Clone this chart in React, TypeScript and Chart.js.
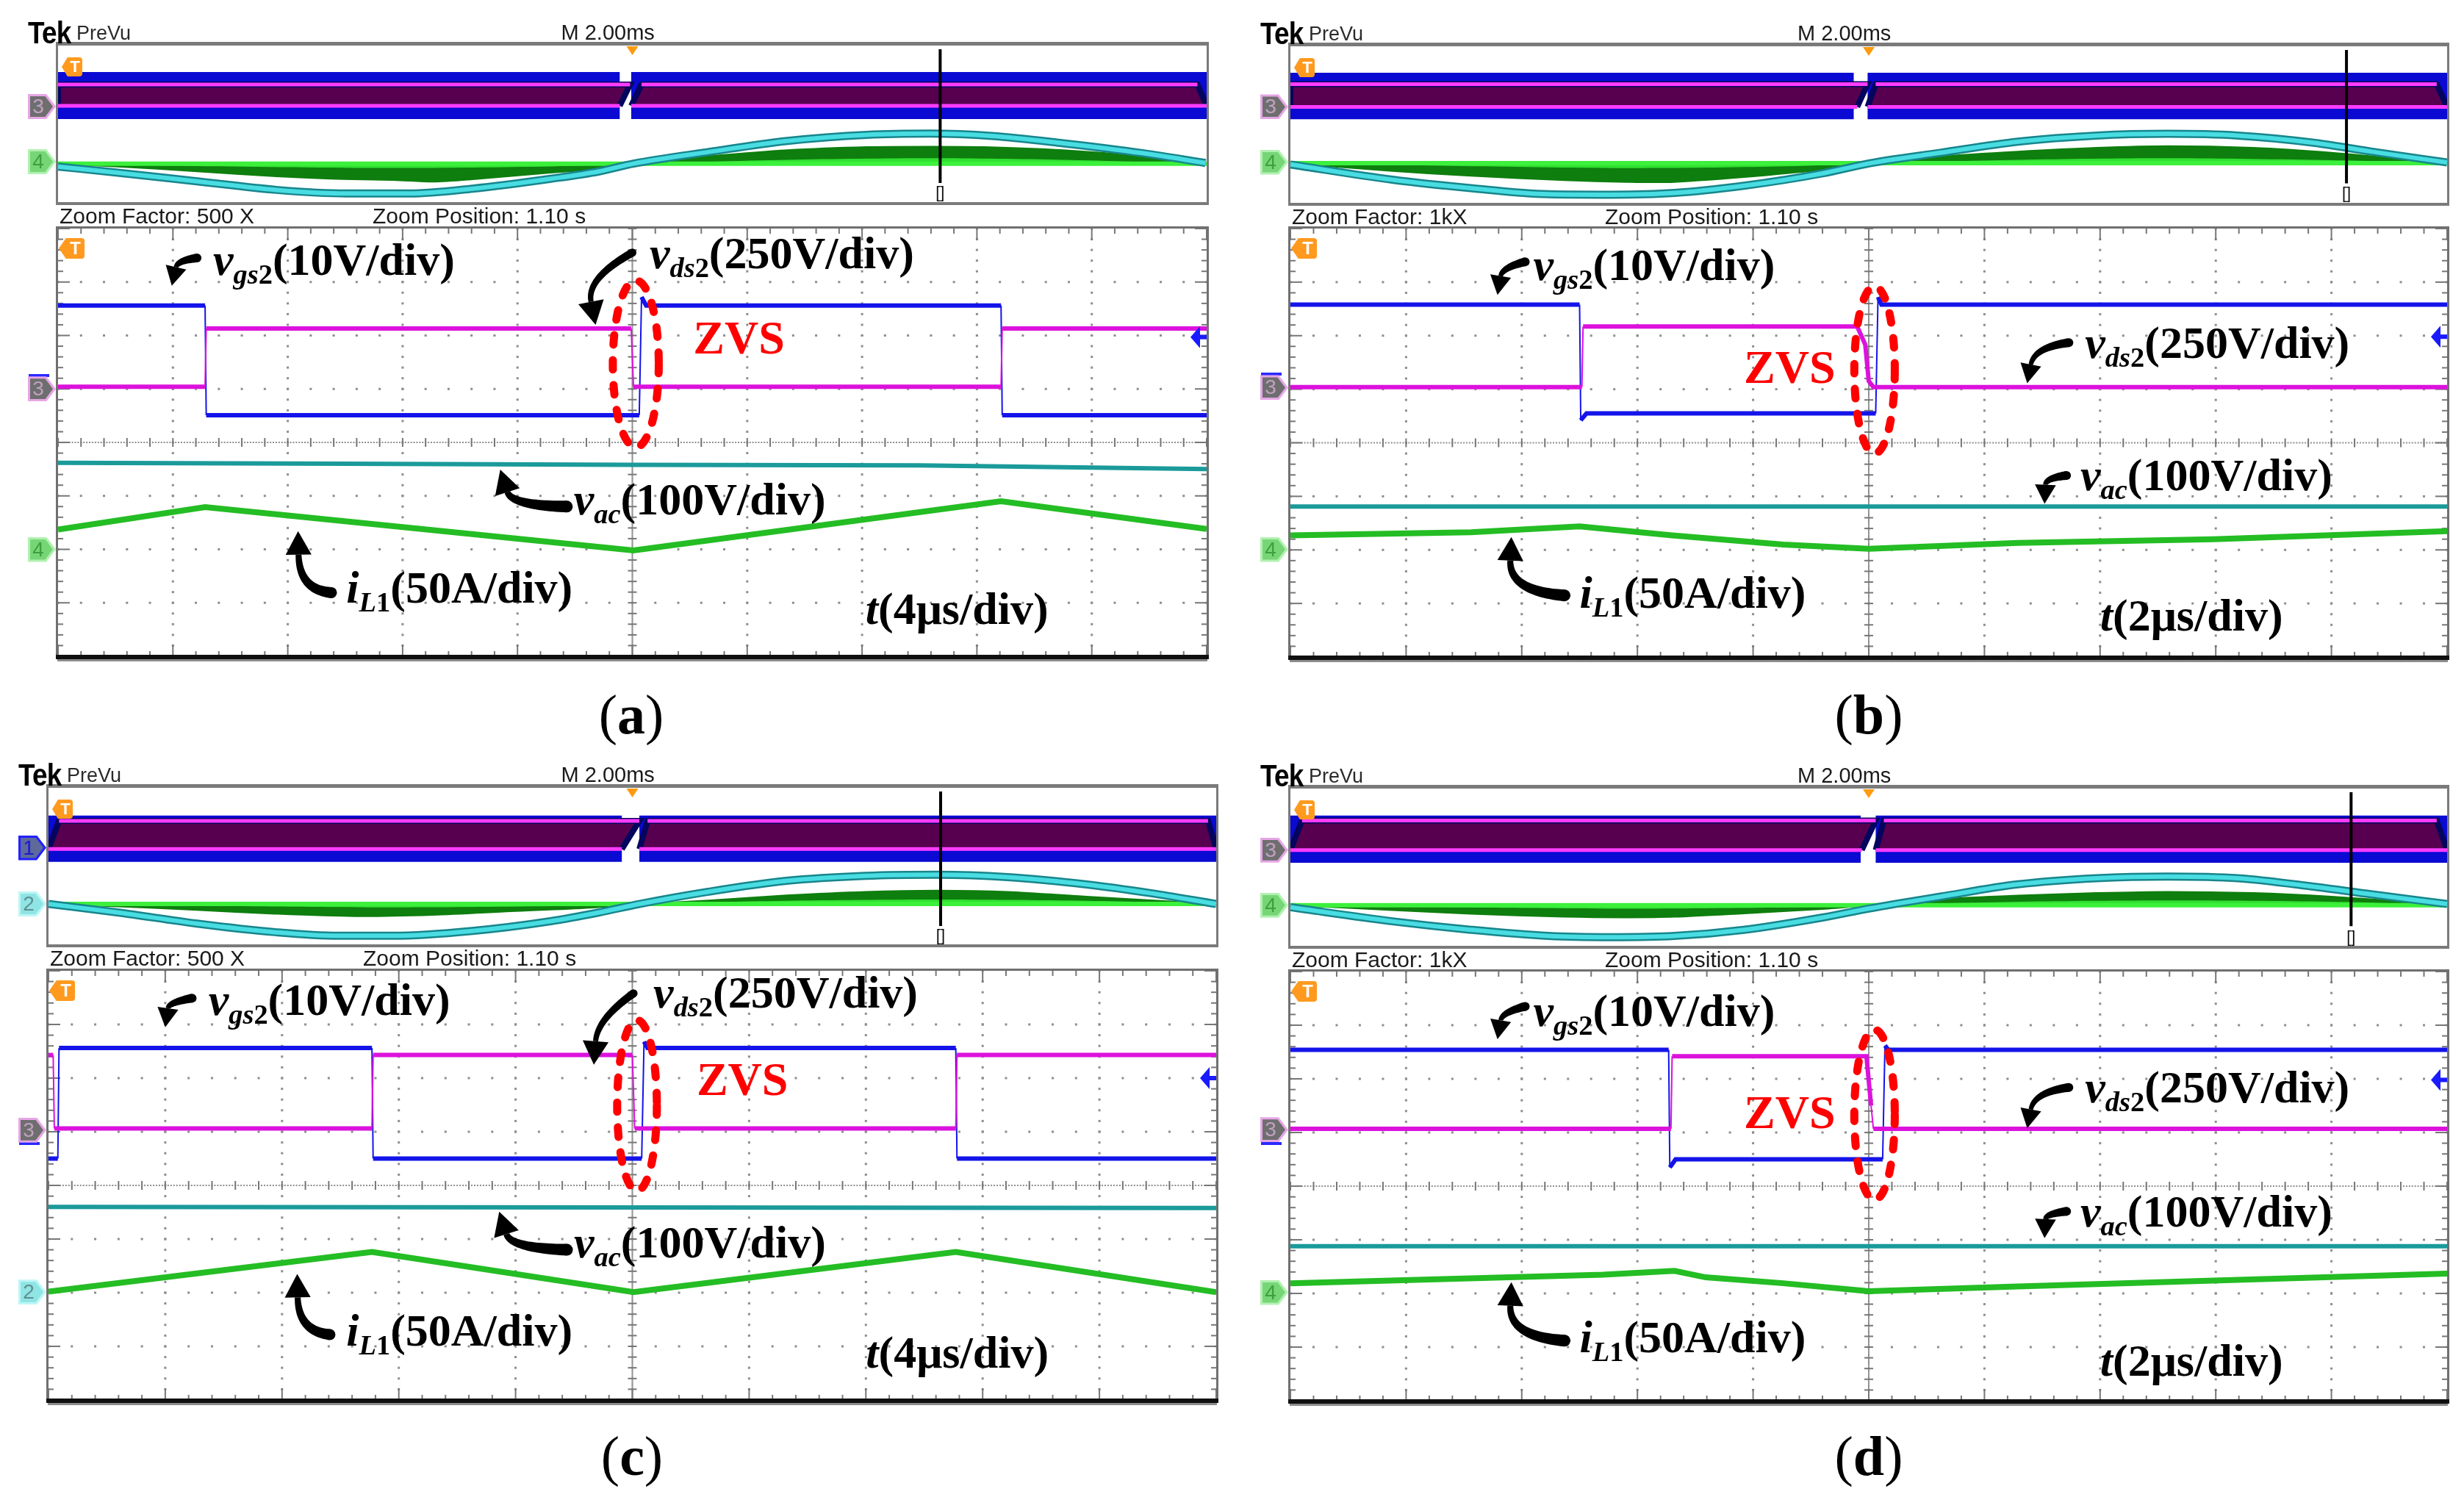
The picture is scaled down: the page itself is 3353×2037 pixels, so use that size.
import React, { useEffect, useRef } from 'react';
import { Chart, registerables } from 'chart.js';

Chart.register(...registerables);

type P = [number, number];

// ================= main screen traces (x: divisions 0..10, y: divisions -4..4) =================
const A_VGS2: P[] = [[0, 2.56], [1.28, 2.56], [1.29, 0.51], [5.06, 0.51], [5.08, 2.72], [5.12, 2.56], [8.21, 2.56], [8.22, 0.51], [10, 0.51]];
const A_VDS2: P[] = [[0, 1.04], [1.28, 1.04], [1.29, 2.13], [4.99, 2.13], [5.01, 1.04], [8.21, 1.04], [8.22, 2.13], [10, 2.13]];
const A_VAC: P[] = [[0, -0.38], [2.5, -0.4], [5, -0.42], [7.5, -0.43], [10, -0.5]];
const A_IL1: P[] = [[0, -1.63], [1.28, -1.21], [5.01, -2.02], [8.21, -1.1], [10, -1.62]];

const B_VGS2: P[] = [[0, 2.58], [2.5, 2.58], [2.51, 0.42], [2.56, 0.55], [5.06, 0.55], [5.08, 2.72], [5.11, 2.58], [10, 2.58]];
const B_VDS2: P[] = [[0, 1.04], [2.52, 1.04], [2.53, 2.17], [4.9, 2.17], [4.97, 1.83], [5.0, 1.15], [5.04, 1.04], [10, 1.04]];
const B_VAC: P[] = [[0, -1.19], [5, -1.19], [10, -1.19]];
const B_IL1: P[] = [[0, -1.73], [1.56, -1.67], [2.5, -1.56], [3.3, -1.73], [4.26, -1.9], [5.0, -1.98], [6.29, -1.87], [7.98, -1.8], [10, -1.65]];

const C_VGS2: P[] = [[0, 0.5], [0.08, 0.5], [0.09, 2.56], [2.77, 2.56], [2.78, 0.5], [5.08, 0.5], [5.1, 2.68], [5.13, 2.56], [7.77, 2.56], [7.78, 0.5], [10, 0.5]];
const C_VDS2: P[] = [[0, 2.43], [0.04, 2.43], [0.05, 1.06], [2.77, 1.06], [2.78, 2.43], [5.0, 2.43], [5.02, 1.06], [7.77, 1.06], [7.78, 2.43], [10, 2.43]];
const C_VAC: P[] = [[0, -0.4], [5, -0.41], [10, -0.42]];
const C_IL1: P[] = [[0, -1.98], [2.77, -1.24], [5.01, -1.99], [7.77, -1.24], [10, -1.99]];

const D_VGS2: P[] = [[0, 2.54], [3.27, 2.54], [3.28, 0.35], [3.33, 0.5], [5.12, 0.5], [5.14, 2.62], [5.17, 2.54], [10, 2.54]];
const D_VDS2: P[] = [[0, 1.07], [3.29, 1.07], [3.3, 2.42], [4.98, 2.42], [5.02, 1.5], [5.04, 1.07], [10, 1.07]];
const D_VAC: P[] = [[0, -1.12], [5, -1.12], [10, -1.12]];
const D_IL1: P[] = [[0, -1.81], [1.89, -1.7], [2.7, -1.65], [3.32, -1.58], [3.59, -1.7], [4.26, -1.81], [5.0, -1.96], [6.29, -1.87], [7.98, -1.76], [10, -1.63]];

// ================= overview (PreVu) strip (x 0..10, y 0..10) =================
const A_OV_BLUE_L: P[] = [[0, 5.31], [0, 8.31], [4.89, 8.31], [4.89, 5.31]];
const A_OV_BLUE_R: P[] = [[4.99, 5.31], [4.99, 8.31], [10, 8.31], [10, 5.31]];
const A_OV_MAG_L: P[] = [[0, 6.15], [0, 7.51], [4.98, 7.51], [4.89, 6.15]];
const A_OV_MAG_R: P[] = [[4.99, 6.15], [5.08, 7.51], [9.92, 7.51], [10, 6.15]];
const A_OV_VAC: P[] = [[0, 2.27], [0.52, 1.88], [1.21, 1.33], [1.9, 0.78], [2.51, 0.55], [3.06, 0.55], [3.61, 0.86], [4.29, 1.49], [4.71, 1.96], [5.01, 2.46], [5.67, 3.21], [6.35, 3.91], [7.04, 4.3], [7.59, 4.38], [8.13, 4.23], [8.75, 3.76], [9.44, 3.13], [9.99, 2.5]];
const A_OV_IL_NEG: P[] = [[0, 2.45], [0.52, 2.27], [1.21, 1.96], [1.9, 1.64], [2.37, 1.49], [2.92, 1.41], [3.27, 1.3], [3.61, 1.45], [4.29, 1.88], [4.71, 2.11], [5.01, 2.45]];
const A_OV_IL_POS: P[] = [[5.01, 2.45], [5.67, 2.93], [6.35, 3.32], [7.04, 3.52], [7.59, 3.55], [8.06, 3.52], [8.75, 3.32], [9.44, 2.93], [9.99, 2.45]];
const A_OV_IN_NEG: P[] = [[0, 2.45], [1.2, 2.3], [2.9, 2.18], [4.3, 2.28], [5.01, 2.45]];
const A_OV_IN_POS: P[] = [[5.01, 2.45], [6.35, 2.7], [7.6, 2.8], [8.75, 2.7], [9.99, 2.45]];
const A_OV_GND: P[] = [[0, 2.45], [10, 2.45]];
const A_OV_CURSOR: P[] = [[7.68, 1.22], [7.68, 9.77]];

const B_OV_BLUE_L: P[] = [[0, 5.34], [0, 8.31], [4.87, 8.31], [4.87, 5.34]];
const B_OV_BLUE_R: P[] = [[4.99, 5.34], [4.99, 8.31], [10, 8.31], [10, 5.34]];
const B_OV_MAG_L: P[] = [[0, 6.13], [0, 7.58], [4.99, 7.58], [4.9, 6.13]];
const B_OV_MAG_R: P[] = [[4.99, 6.13], [5.06, 7.58], [9.91, 7.58], [10, 6.13]];
const B_OV_VAC: P[] = [[0, 2.45], [0.88, 1.48], [1.56, 0.94], [2.23, 0.55], [2.77, 0.52], [3.32, 0.63], [3.92, 1.09], [4.6, 1.88], [5.01, 2.53], [5.62, 3.2], [6.29, 3.91], [6.97, 4.3], [7.58, 4.41], [8.19, 4.3], [8.86, 3.83], [9.34, 3.28], [10, 2.58]];
const B_OV_IL_NEG: P[] = [[0, 2.53], [0.88, 2.03], [1.56, 1.72], [2.37, 1.44], [2.91, 1.33], [3.32, 1.33], [3.92, 1.64], [4.6, 2.11], [5.01, 2.53]];
const B_OV_IL_POS: P[] = [[5.01, 2.53], [5.62, 2.97], [6.29, 3.28], [6.97, 3.52], [7.58, 3.63], [8.32, 3.52], [9.0, 3.2], [10, 2.53]];
const B_OV_IN_NEG: P[] = [[0, 2.53], [1.5, 2.35], [3.0, 2.22], [4.3, 2.33], [5.01, 2.53]];
const B_OV_IN_POS: P[] = [[5.01, 2.53], [6.3, 2.75], [7.6, 2.85], [9.0, 2.72], [10, 2.53]];
const B_OV_GND: P[] = [[0, 2.53], [10, 2.53]];
const B_OV_CURSOR: P[] = [[9.13, 1.25], [9.13, 9.77]];

const C_OV_BLUE_L: P[] = [[0, 5.27], [0, 8.23], [4.91, 8.23], [4.91, 5.27]];
const C_OV_BLUE_R: P[] = [[5.06, 5.27], [5.06, 8.23], [10, 8.23], [10, 5.27]];
const C_OV_MAG_L: P[] = [[0, 6.09], [0.09, 7.89], [5.06, 7.89], [4.91, 6.09]];
const C_OV_MAG_R: P[] = [[5.06, 6.09], [5.13, 7.89], [9.93, 7.89], [10, 6.09]];
const C_OV_VAC: P[] = [[0, 2.58], [0.6, 2.03], [1.27, 1.33], [1.94, 0.78], [2.48, 0.55], [2.95, 0.55], [3.63, 0.86], [4.3, 1.48], [4.71, 2.03], [5.06, 2.58], [5.65, 3.36], [6.32, 4.06], [7.0, 4.38], [7.61, 4.45], [8.21, 4.3], [8.89, 3.83], [9.43, 3.28], [10, 2.58]];
const C_OV_IL_NEG: P[] = [[0, 2.58], [0.6, 2.42], [1.27, 2.19], [1.94, 1.95], [2.62, 1.8], [3.29, 1.88], [3.96, 2.11], [4.64, 2.34], [5.06, 2.58]];
const C_OV_IL_POS: P[] = [[5.06, 2.58], [5.65, 2.81], [6.32, 3.13], [7.0, 3.36], [7.61, 3.44], [8.21, 3.36], [8.89, 3.05], [10, 2.58]];
const C_OV_IN_NEG: P[] = [[0, 2.58], [1.6, 2.44], [2.9, 2.36], [4.3, 2.44], [5.06, 2.58]];
const C_OV_IN_POS: P[] = [[5.06, 2.58], [6.3, 2.78], [7.6, 2.86], [8.9, 2.78], [10, 2.58]];
const C_OV_GND: P[] = [[0, 2.58], [10, 2.58]];
const C_OV_CURSOR: P[] = [[7.64, 1.17], [7.64, 9.77]];

const D_OV_BLUE_L: P[] = [[0, 5.28], [0, 8.28], [4.93, 8.28], [4.93, 5.28]];
const D_OV_BLUE_R: P[] = [[5.06, 5.28], [5.06, 8.28], [10, 8.28], [10, 5.28]];
const D_OV_MAG_L: P[] = [[0, 6.09], [0.1, 7.97], [5.06, 7.97], [4.94, 6.09]];
const D_OV_MAG_R: P[] = [[5.06, 6.09], [5.13, 7.97], [9.91, 7.97], [10, 6.09]];
const D_OV_VAC: P[] = [[0, 2.45], [0.88, 1.56], [1.56, 1.02], [2.23, 0.63], [2.77, 0.55], [3.32, 0.63], [3.92, 1.02], [4.6, 1.8], [5.01, 2.38], [5.62, 3.13], [6.29, 3.91], [6.97, 4.3], [7.58, 4.41], [8.19, 4.3], [8.86, 3.75], [9.34, 3.28], [10, 2.66]];
const D_OV_IL_NEG: P[] = [[0, 2.58], [0.88, 2.27], [1.56, 2.03], [2.37, 1.84], [2.91, 1.8], [3.32, 1.84], [3.92, 2.06], [4.6, 2.34], [5.01, 2.58]];
const D_OV_IL_POS: P[] = [[5.01, 2.58], [5.62, 2.97], [6.29, 3.2], [6.97, 3.36], [7.58, 3.44], [8.32, 3.36], [9.0, 3.13], [10, 2.63]];
const D_OV_IN_NEG: P[] = [[0, 2.58], [1.5, 2.44], [2.9, 2.36], [4.3, 2.44], [5.01, 2.58]];
const D_OV_IN_POS: P[] = [[5.01, 2.58], [6.3, 2.8], [7.6, 2.88], [9.0, 2.8], [10, 2.6]];
const D_OV_GND: P[] = [[0, 2.58], [10, 2.58]];
const D_OV_CURSOR: P[] = [[9.17, 1.25], [9.17, 9.77]];

const OV_TRIGGER = 5;

// ================= layout / annotation configuration =================
interface Box { l: number; t: number; w: number; h: number }
interface Arrow { tail: P; ctrl: P; tip: P; w: [number, number]; head: number }
interface Lbl { kind: string; x: number; y: number }
interface Panel {
  id: string; ov: Box; main: Box; cap: { x: number; y: number };
  zoomFactor: string; tdiv: string;
  vgs: P[]; vds: P[]; vac: P[]; il: P[];
  ovBlue: P[][]; ovMag: P[][]; ovVac: P[]; ovIlNeg: P[]; ovIlPos: P[]; ovInNeg: P[]; ovInPos: P[]; ovGnd: P[]; ovCursor: P[];
  bracketY: number;
  ovMarkers: { ch: string; y: number }[]; mainMarkers: { ch: string; y: number }[]; ch1Edge: number;
  labels: Lbl[]; arrows: Arrow[]; ellipse: { cx: number; cy: number; rx: number; ry: number }; blueRef: number;
}

const PANELS: Panel[] = [
  {
    id: 'a', ov: { l: 79, t: 62, w: 1563, h: 213 }, main: { l: 79, t: 311, w: 1563, h: 582 }, cap: { x: 859, y: 998 },
    zoomFactor: 'Zoom Factor: 500 X', tdiv: '4μs/div',
    vgs: A_VGS2, vds: A_VDS2, vac: A_VAC, il: A_IL1,
    ovBlue: [A_OV_BLUE_L, A_OV_BLUE_R], ovMag: [A_OV_MAG_L, A_OV_MAG_R], ovVac: A_OV_VAC, ovIlNeg: A_OV_IL_NEG, ovIlPos: A_OV_IL_POS,
    ovInNeg: A_OV_IN_NEG, ovInPos: A_OV_IN_POS, ovGnd: A_OV_GND, ovCursor: A_OV_CURSOR, bracketY: 0.62,
    ovMarkers: [{ ch: '3', y: 6.1 }, { ch: '4', y: 2.58 }],
    mainMarkers: [{ ch: '3', y: 1.0 }, { ch: '4', y: -2.0 }], ch1Edge: 1.25,
    labels: [{ kind: 'vgs', x: 1.35, y: 3.13 }, { kind: 'vds', x: 5.15, y: 3.26 }, { kind: 'zvs', x: 5.53, y: 1.66 }, { kind: 'vac', x: 4.49, y: -1.35 }, { kind: 'il', x: 2.51, y: -3.0 }, { kind: 't', x: 7.03, y: -3.4 }],
    arrows: [
      { tail: [1.21, 3.45], ctrl: [1.04, 3.4], tip: [0.99, 2.93], w: [12, 6], head: 26 },
      { tail: [5.0, 3.55], ctrl: [4.6, 3.07], tip: [4.68, 2.2], w: [11, 7], head: 32 },
      { tail: [4.43, -1.2], ctrl: [3.95, -1.18], tip: [3.85, -0.51], w: [16, 8], head: 32 },
      { tail: [2.38, -2.81], ctrl: [2.1, -2.76], tip: [2.09, -1.66], w: [15, 8], head: 32 },
    ],
    ellipse: { cx: 5.03, cy: 1.47, rx: 0.2, ry: 1.56 }, blueRef: 1.97,
  },
  {
    id: 'b', ov: { l: 1756, t: 63, w: 1574, h: 213 }, main: { l: 1756, t: 311, w: 1574, h: 583 }, cap: { x: 2543, y: 998 },
    zoomFactor: 'Zoom Factor: 1kX', tdiv: '2μs/div',
    vgs: B_VGS2, vds: B_VDS2, vac: B_VAC, il: B_IL1,
    ovBlue: [B_OV_BLUE_L, B_OV_BLUE_R], ovMag: [B_OV_MAG_L, B_OV_MAG_R], ovVac: B_OV_VAC, ovIlNeg: B_OV_IL_NEG, ovIlPos: B_OV_IL_POS,
    ovInNeg: B_OV_IN_NEG, ovInPos: B_OV_IN_POS, ovGnd: B_OV_GND, ovCursor: B_OV_CURSOR, bracketY: 0.63,
    ovMarkers: [{ ch: '3', y: 6.13 }, { ch: '4', y: 2.6 }],
    mainMarkers: [{ ch: '3', y: 1.03 }, { ch: '4', y: -1.99 }], ch1Edge: 1.28,
    labels: [{ kind: 'vgs', x: 2.1, y: 3.04 }, { kind: 'vds', x: 6.87, y: 1.58 }, { kind: 'zvs', x: 3.92, y: 1.11 }, { kind: 'vac', x: 6.83, y: -0.89 }, { kind: 'il', x: 2.5, y: -3.08 }, { kind: 't', x: 7.0, y: -3.5 }],
    arrows: [
      { tail: [2.03, 3.38], ctrl: [1.83, 3.27], tip: [1.79, 2.76], w: [12, 6], head: 26 },
      { tail: [6.73, 1.87], ctrl: [6.43, 1.78], tip: [6.37, 1.11], w: [12, 6], head: 26 },
      { tail: [6.71, -0.61], ctrl: [6.53, -0.66], tip: [6.52, -1.14], w: [12, 6], head: 26 },
      { tail: [2.37, -2.85], ctrl: [1.89, -2.77], tip: [1.91, -1.76], w: [16, 8], head: 32 },
    ],
    ellipse: { cx: 5.05, cy: 1.36, rx: 0.175, ry: 1.56 }, blueRef: 1.98,
  },
  {
    id: 'c', ov: { l: 66, t: 1072, w: 1589, h: 213 }, main: { l: 66, t: 1321, w: 1589, h: 584 }, cap: { x: 860, y: 2007 },
    zoomFactor: 'Zoom Factor: 500 X', tdiv: '4μs/div',
    vgs: C_VGS2, vds: C_VDS2, vac: C_VAC, il: C_IL1,
    ovBlue: [C_OV_BLUE_L, C_OV_BLUE_R], ovMag: [C_OV_MAG_L, C_OV_MAG_R], ovVac: C_OV_VAC, ovIlNeg: C_OV_IL_NEG, ovIlPos: C_OV_IL_POS,
    ovInNeg: C_OV_IN_NEG, ovInPos: C_OV_IN_POS, ovGnd: C_OV_GND, ovCursor: C_OV_CURSOR, bracketY: 0.55,
    ovMarkers: [{ ch: '1', y: 6.17 }, { ch: '2', y: 2.58 }],
    mainMarkers: [{ ch: '3', y: 1.03 }, { ch: '2', y: -1.99 }], ch1Edge: 0.78,
    labels: [{ kind: 'vgs', x: 1.37, y: 3.18 }, { kind: 'vds', x: 5.18, y: 3.32 }, { kind: 'zvs', x: 5.55, y: 1.68 }, { kind: 'vac', x: 4.5, y: -1.34 }, { kind: 'il', x: 2.55, y: -2.98 }, { kind: 't', x: 7.0, y: -3.4 }],
    arrows: [
      { tail: [1.23, 3.49], ctrl: [1.03, 3.41], tip: [1.0, 2.95], w: [12, 6], head: 26 },
      { tail: [5.01, 3.58], ctrl: [4.7, 3.1], tip: [4.67, 2.25], w: [11, 7], head: 32 },
      { tail: [4.44, -1.2], ctrl: [3.96, -1.17], tip: [3.86, -0.49], w: [16, 8], head: 32 },
      { tail: [2.41, -2.78], ctrl: [2.14, -2.72], tip: [2.13, -1.65], w: [15, 8], head: 32 },
    ],
    ellipse: { cx: 5.04, cy: 1.49, rx: 0.17, ry: 1.59 }, blueRef: 2.0,
  },
  {
    id: 'd', ov: { l: 1756, t: 1073, w: 1574, h: 214 }, main: { l: 1756, t: 1322, w: 1574, h: 584 }, cap: { x: 2543, y: 2007 },
    zoomFactor: 'Zoom Factor: 1kX', tdiv: '2μs/div',
    vgs: D_VGS2, vds: D_VDS2, vac: D_VAC, il: D_IL1,
    ovBlue: [D_OV_BLUE_L, D_OV_BLUE_R], ovMag: [D_OV_MAG_L, D_OV_MAG_R], ovVac: D_OV_VAC, ovIlNeg: D_OV_IL_NEG, ovIlPos: D_OV_IL_POS,
    ovInNeg: D_OV_IN_NEG, ovInPos: D_OV_IN_POS, ovGnd: D_OV_GND, ovCursor: D_OV_CURSOR, bracketY: 0.55,
    ovMarkers: [{ ch: '3', y: 6.09 }, { ch: '4', y: 2.58 }],
    mainMarkers: [{ ch: '3', y: 1.05 }, { ch: '4', y: -1.98 }], ch1Edge: 0.8,
    labels: [{ kind: 'vgs', x: 2.1, y: 2.99 }, { kind: 'vds', x: 6.87, y: 1.56 }, { kind: 'zvs', x: 3.92, y: 1.08 }, { kind: 'vac', x: 6.83, y: -0.75 }, { kind: 'il', x: 2.5, y: -3.1 }, { kind: 't', x: 7.0, y: -3.53 }],
    arrows: [
      { tail: [2.03, 3.35], ctrl: [1.83, 3.24], tip: [1.79, 2.74], w: [12, 6], head: 26 },
      { tail: [6.73, 1.84], ctrl: [6.43, 1.75], tip: [6.37, 1.08], w: [12, 6], head: 26 },
      { tail: [6.71, -0.47], ctrl: [6.53, -0.52], tip: [6.52, -0.97], w: [12, 6], head: 26 },
      { tail: [2.37, -2.88], ctrl: [1.89, -2.8], tip: [1.91, -1.79], w: [16, 8], head: 32 },
    ],
    ellipse: { cx: 5.05, cy: 1.33, rx: 0.175, ry: 1.585 }, blueRef: 1.98,
  },
];

// ================= helpers =================
const PAD = 14;
const SERIF = '"Liberation Serif","Times New Roman",Times,serif';
const SANS = '"Liberation Sans",Arial,Helvetica,sans-serif';
const xyd = (pts: P[]) => pts.map(([x, y]) => ({ x, y }));

function baseOptions(ymin: number, ymax: number): any {
  return {
    responsive: false, animation: false, devicePixelRatio: 1, events: [],
    layout: { padding: PAD },
    plugins: { legend: { display: false }, tooltip: { enabled: false } },
    elements: { point: { radius: 0 } },
    scales: {
      x: { type: 'linear', min: 0, max: 10, display: false },
      y: { type: 'linear', min: ymin, max: ymax, display: false },
    },
  };
}

function drawArrow(ctx: CanvasRenderingContext2D, t: number[], c: number[], tip: number[], w0: number, w1: number, head: number) {
  let dx = tip[0] - c[0], dy = tip[1] - c[1];
  const L = Math.hypot(dx, dy) || 1; dx /= L; dy /= L;
  const b = [tip[0] - dx * head, tip[1] - dy * head];
  const N = 30; const lft: number[][] = [], rgt: number[][] = [];
  for (let i = 0; i <= N; i++) {
    const s = i / N, q = 1 - s;
    const px = q * q * t[0] + 2 * q * s * c[0] + s * s * b[0];
    const py = q * q * t[1] + 2 * q * s * c[1] + s * s * b[1];
    let tx = 2 * q * (c[0] - t[0]) + 2 * s * (b[0] - c[0]);
    let ty = 2 * q * (c[1] - t[1]) + 2 * s * (b[1] - c[1]);
    const tl = Math.hypot(tx, ty) || 1; tx /= tl; ty /= tl;
    const hw = (w0 + (w1 - w0) * s) / 2;
    lft.push([px - ty * hw, py + tx * hw]); rgt.push([px + ty * hw, py - tx * hw]);
  }
  ctx.beginPath();
  ctx.moveTo(lft[0][0], lft[0][1]);
  for (const p of lft) ctx.lineTo(p[0], p[1]);
  for (let i = rgt.length - 1; i >= 0; i--) ctx.lineTo(rgt[i][0], rgt[i][1]);
  ctx.closePath(); ctx.fill();
  ctx.beginPath(); ctx.arc(t[0], t[1], w0 / 2, 0, Math.PI * 2); ctx.fill();
  const hw = head * 0.55;
  ctx.beginPath();
  ctx.moveTo(tip[0], tip[1]);
  ctx.lineTo(b[0] - dy * hw, b[1] + dx * hw);
  ctx.lineTo(b[0] + dy * hw, b[1] - dx * hw);
  ctx.closePath(); ctx.fill();
}

const gridPlugin = {
  id: 'scopeGrid',
  beforeDatasetsDraw(chart: any) {
    const { ctx, chartArea: { left, right, top, bottom }, scales: { x, y } } = chart;
    const X = (v: number) => x.getPixelForValue(v), Y = (v: number) => y.getPixelForValue(v);
    ctx.save();
    ctx.fillStyle = '#8e8e8e';
    const dot = (px: number, py: number, s: number) => ctx.fillRect(px - s / 2, py - s / 2, s, s);
    for (let i = 1; i < 10; i++) {
      if (i === 5) continue;
      for (let k = -20; k <= 20; k++) dot(X(i), Y(k * 0.2), 3);
    }
    for (let j = -3; j <= 3; j++) {
      if (j === 0) continue;
      for (let k = 0; k <= 50; k++) dot(X(k * 0.2), Y(j), 3);
    }
    const cx = X(5), cy = Y(0);
    for (let k = -160; k <= 160; k++) dot(cx, Y(k * 0.025), 2);
    for (let k = 0; k <= 400; k++) dot(X(k * 0.025), cy, 2);
    ctx.fillStyle = '#777';
    for (let k = -20; k <= 20; k++) ctx.fillRect(cx - 6, Y(k * 0.2) - 1, 12, 2);
    for (let k = 0; k <= 50; k++) ctx.fillRect(X(k * 0.2) - 1, cy - 6, 2, 12);
    for (let k = 0; k <= 50; k++) {
      const len = k % 5 === 0 ? 16 : 7;
      ctx.fillRect(X(k * 0.2) - 1, top, 2, len);
      ctx.fillRect(X(k * 0.2) - 1, bottom - len, 2, len);
    }
    for (let k = -20; k <= 20; k++) {
      const len = k % 5 === 0 ? 16 : 7;
      ctx.fillRect(left, Y(k * 0.2) - 1, len, 2);
      ctx.fillRect(right - len, Y(k * 0.2) - 1, len, 2);
    }
    ctx.restore();
  },
  afterDraw(chart: any) {
    const { ctx, chartArea: { left, right, top, bottom } } = chart;
    ctx.save();
    ctx.fillStyle = '#707070';
    ctx.fillRect(left - 3, top - 3, right - left + 6, 3);
    ctx.fillRect(left - 3, top, 3, bottom - top);
    ctx.fillRect(right, top, 3, bottom - top);
    ctx.fillStyle = '#101010';
    ctx.fillRect(left - 3, bottom - 2, right - left + 6, 6);
    ctx.fillStyle = '#8c8c8c';
    ctx.fillRect(left - 1, bottom + 4, right - left + 2, 3);
    ctx.restore();
  },
};

function notesPlugin(p: Panel) {
  return {
    id: 'scopeNotes',
    afterDatasetsDraw(chart: any) {
      const { ctx, chartArea, scales: { x, y } } = chart;
      const X = (v: number) => x.getPixelForValue(v), Y = (v: number) => y.getPixelForValue(v);
      const kx = X(1) - X(0), ky = Y(0) - Y(1);
      ctx.save();
      const by = Y(p.blueRef), r = chartArea.right;
      ctx.fillStyle = '#1a1aff';
      ctx.beginPath(); ctx.moveTo(r - 22, by); ctx.lineTo(r - 9, by - 15); ctx.lineTo(r - 9, by + 15); ctx.closePath(); ctx.fill();
      ctx.fillRect(r - 11, by - 3, 11, 6);
      const e = p.ellipse;
      ctx.strokeStyle = '#ff0000'; ctx.lineWidth = 11; ctx.setLineDash([13, 21]); ctx.lineCap = 'round';
      ctx.beginPath(); ctx.ellipse(X(e.cx), Y(e.cy), e.rx * kx, e.ry * ky, 0, 0, Math.PI * 2); ctx.stroke();
      ctx.setLineDash([]);
      ctx.fillStyle = '#000';
      for (const a of p.arrows) {
        drawArrow(ctx, [X(a.tail[0]), Y(a.tail[1])], [X(a.ctrl[0]), Y(a.ctrl[1])], [X(a.tip[0]), Y(a.tip[1])], a.w[0], a.w[1], a.head);
      }
      ctx.restore();
    },
  };
}

function ovFramePlugin() {
  return {
    id: 'ovFrame',
    afterDraw(chart: any) {
      const { ctx, chartArea: { left, right, top, bottom }, scales: { x } } = chart;
      ctx.save();
      ctx.fillStyle = '#7a7a7a';
      ctx.fillRect(left - 3, top - 5, right - left + 6, 5);
      ctx.fillRect(left - 3, bottom, right - left + 6, 4);
      ctx.fillRect(left - 3, top, 3, bottom - top);
      ctx.fillRect(right, top, 3, bottom - top);
      const cx = x.getPixelForValue(OV_TRIGGER);
      ctx.fillStyle = '#ff9a10';
      ctx.beginPath(); ctx.moveTo(cx - 8, top + 1); ctx.lineTo(cx + 8, top + 1); ctx.lineTo(cx, top + 13); ctx.closePath(); ctx.fill();
      ctx.restore();
    },
  };
}

function mainConfig(p: Panel): any {
  const seg = (w: number) => ({ borderWidth: (c: any) => (Math.abs(c.p1.x - c.p0.x) < 4.5 ? 2 : w) });
  const mk = (data: P[], color: string, width: number, order: number) => ({
    data: xyd(data), borderColor: color, borderWidth: width, pointRadius: 0, fill: false, tension: 0, clip: 0, order, segment: seg(width),
  });
  return {
    type: 'line',
    data: {
      datasets: [
        mk(p.vac, '#1b9a9a', 6, 4),
        mk(p.il, '#24bd24', 8, 3),
        mk(p.vgs, '#1414ea', 6, 2),
        mk(p.vds, '#dc12dc', 6, 1),
      ],
    },
    options: baseOptions(-4, 4),
    plugins: [gridPlugin, notesPlugin(p)],
  };
}

function ovConfig(p: Panel): any {
  const list: any[] = [];
  const poly = (pts: P[], fillColor: string, border = 'transparent', bw = 0, tension = 0) =>
    list.push({ data: xyd(pts), fill: 'shape', backgroundColor: fillColor, borderColor: border, borderWidth: bw, pointRadius: 0, tension, clip: 0 });
  const ln = (pts: P[], color: string, w: number, extra: any = {}) =>
    list.push({ data: xyd(pts), fill: false, borderColor: color, borderWidth: w, pointRadius: 0, tension: 0, clip: 0, ...extra });
  for (const b of p.ovBlue) poly(b, '#0a0ad2');
  for (const m of p.ovMag) {
    poly(m, '#57004f', '#05055e', 8);
    ln([m[1], m[2]], '#ff3cff', 5);
    ln([m[0], m[3]], '#ff3cff', 5);
  }
  poly(p.ovIlNeg, '#0e7e0e', '#0e7e0e', 2, 0.3);
  poly(p.ovIlPos, '#0e7e0e', '#0e7e0e', 2, 0.3);
  poly(p.ovInNeg, '#30e030', 'transparent', 0, 0.3);
  poly(p.ovInPos, '#30e030', 'transparent', 0, 0.3);
  ln(p.ovGnd, '#3cf03c', 6);
  ln(p.ovVac, '#17868c', 11, { cubicInterpolationMode: 'monotone' });
  ln(p.ovVac, '#48dde2', 6, { cubicInterpolationMode: 'monotone' });
  ln(p.ovCursor, '#000', 4);
  const n = list.length;
  list.forEach((d, i) => { d.order = n - i; });
  return { type: 'line', data: { datasets: list }, options: baseOptions(0, 10), plugins: [ovFramePlugin()] };
}

// ================= DOM pieces =================
function TextAt({ x, y, size, family = SERIF, weight = 700, color = '#000', asc = 0.8375, children, style }: any) {
  return (
    <div style={{ position: 'absolute', left: x, top: y - asc * size, fontFamily: family, fontSize: size, lineHeight: `${size}px`, fontWeight: weight, color, whiteSpace: 'nowrap', ...style }}>
      {children}
    </div>
  );
}

const Sub = ({ children }: any) => <span style={{ fontSize: '0.62em', verticalAlign: '-0.3em', lineHeight: 0 }}>{children}</span>;

const MARKER_STYLE: any = {
  '1': { edge: '#2222ff', fill: '#5d6a9a', digit: '#1b1bd0' },
  '2': { edge: '#bdf6f6', fill: '#8fe4e4', digit: '#5f8f8f' },
  '3': { edge: '#e6a6e6', fill: '#6e6e6e', digit: '#c0a0c0' },
  '4': { edge: '#b2f0b2', fill: '#76d676', digit: '#3f9f3f' },
};
const PENT = 'polygon(0 0, 66% 0, 100% 50%, 66% 100%, 0 100%)';

function ChMarker({ ch, right, cy }: any) {
  const st = MARKER_STYLE[ch];
  return (
    <div style={{ position: 'absolute', left: right - 38, top: cy - 17, width: 38, height: 34, background: st.edge, clipPath: PENT }}>
      <div style={{ position: 'absolute', left: 3, top: 3, width: 31, height: 28, background: st.fill, clipPath: PENT }} />
      <div style={{ position: 'absolute', left: 3, top: 0, width: 22, height: 34, textAlign: 'center', lineHeight: '34px', fontFamily: SANS, fontSize: 28, color: st.digit }}>{ch}</div>
    </div>
  );
}

function TMark({ x, y, w, h }: any) {
  return (
    <div style={{ position: 'absolute', left: x, top: y, width: w, height: h, background: '#ff9a1f', clipPath: 'polygon(0 50%, 28% 0, 100% 0, 100% 100%, 28% 100%)', borderRadius: 4 }}>
      <div style={{ position: 'absolute', left: w * 0.28, right: 0, top: 0, bottom: 0, color: '#fff', fontFamily: SANS, fontWeight: 700, fontSize: h * 0.85, lineHeight: `${h}px`, textAlign: 'center' }}>T</div>
    </div>
  );
}

function labelContent(kind: string, tdiv: string) {
  switch (kind) {
    case 'vgs': return <><i>v</i><Sub><i>gs</i>2</Sub>(10V/div)</>;
    case 'vds': return <><i>v</i><Sub><i>ds</i>2</Sub>(250V/div)</>;
    case 'vac': return <><i>v</i><Sub><i>ac</i></Sub>(100V/div)</>;
    case 'il': return <><i>i</i><Sub><i>L</i>1</Sub>(50A/div)</>;
    case 't': return <><i>t</i>({tdiv})</>;
    default: return <>ZVS</>;
  }
}

function ScopePanel({ p }: { p: Panel }) {
  const ovRef = useRef<HTMLCanvasElement>(null);
  const mainRef = useRef<HTMLCanvasElement>(null);
  useEffect(() => {
    const c1 = new Chart(ovRef.current as HTMLCanvasElement, ovConfig(p));
    const c2 = new Chart(mainRef.current as HTMLCanvasElement, mainConfig(p));
    return () => { c1.destroy(); c2.destroy(); };
  }, [p]);
  const { ov, main } = p;
  const mx = (v: number) => main.l + (v / 10) * main.w;
  const my = (v: number) => main.t + ((4 - v) / 8) * main.h;
  const ox = (v: number) => ov.l + (v / 10) * ov.w;
  const oy = (v: number) => ov.t + ((10 - v) / 10) * ov.h;
  const canv = (b: Box, ref: any) => (
    <canvas ref={ref} width={b.w + 2 * PAD} height={b.h + 2 * PAD}
      style={{ position: 'absolute', left: b.l - PAD, top: b.t - PAD, width: b.w + 2 * PAD, height: b.h + 2 * PAD }} />
  );
  const cursorX = ox(p.ovCursor[0][0]);
  return (
    <>
      {canv(ov, ovRef)}
      {canv(main, mainRef)}
      <TextAt x={ov.l - 41} y={ov.t - 2} size={42} family={SANS} asc={0.8465} style={{ transform: 'scaleX(0.88)', transformOrigin: 'left', letterSpacing: -1 }}>Tek</TextAt>
      <TextAt x={ov.l + 25} y={ov.t - 7} size={27} family={SANS} weight={400} color="#2a2a2a" asc={0.8465}>PreVu</TextAt>
      <TextAt x={ov.l + ov.w / 2 - 97} y={ov.t - 7} size={29} family={SANS} weight={400} color="#1a1a1a" asc={0.8465}>M 2.00ms</TextAt>
      <TextAt x={ov.l + 2} y={ov.t + ov.h + 29} size={30} family={SANS} weight={400} color="#1a1a1a" asc={0.8465}>{p.zoomFactor}</TextAt>
      <TextAt x={ov.l + 428} y={ov.t + ov.h + 29} size={30} family={SANS} weight={400} color="#1a1a1a" asc={0.8465}>Zoom Position: 1.10 s</TextAt>
      <div style={{ position: 'absolute', left: cursorX - 20, top: oy(p.bracketY) - 12, width: 40, textAlign: 'center', fontFamily: SANS, fontSize: 22, lineHeight: '24px', color: '#111' }}>[]</div>
      {p.ovMarkers.map((m, i) => <ChMarker key={'o' + i} ch={m.ch} right={ov.l - 3} cy={oy(m.y)} />)}
      <div style={{ position: 'absolute', left: main.l - 40, top: my(p.ch1Edge) - 2, width: 28, height: 4, background: '#2a2aff' }} />
      {p.mainMarkers.map((m, i) => <ChMarker key={'m' + i} ch={m.ch} right={main.l - 3} cy={my(m.y)} />)}
      <TMark x={ov.l + 5} y={ov.t + 16} w={28} h={26} />
      <TMark x={main.l + 1} y={my(3.63) - 14} w={35} h={28} />
      {p.labels.map((l, i) => l.kind === 'zvs'
        ? <TextAt key={'l' + i} x={mx(l.x)} y={my(l.y)} size={64} color="#ff0000">ZVS</TextAt>
        : <TextAt key={'l' + i} x={mx(l.x)} y={my(l.y)} size={62}>{labelContent(l.kind, p.tdiv)}</TextAt>)}
      <div style={{ position: 'absolute', left: p.cap.x - 100, top: p.cap.y - 0.8375 * 76, width: 200, textAlign: 'center', fontFamily: SERIF, fontSize: 76, lineHeight: '76px', color: '#000' }}>
        <span style={{ fontWeight: 400 }}>(</span><span style={{ fontWeight: 700 }}>{p.id}</span><span style={{ fontWeight: 400 }}>)</span>
      </div>
    </>
  );
}

export default function App() {
  return (
    <div style={{ position: 'absolute', left: 0, top: 0, width: 3353, height: 2037, background: '#fff', overflow: 'hidden' }}>
      {PANELS.map((p) => <ScopePanel key={p.id} p={p} />)}
    </div>
  );
}
